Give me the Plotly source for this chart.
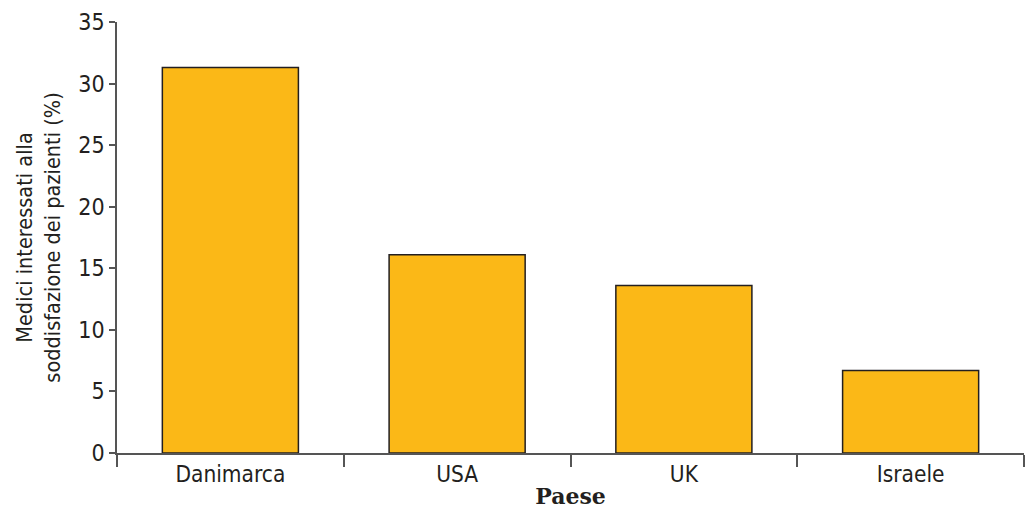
import plotly.graph_objects as go

countries = ["Danimarca", "USA", "UK", "Israele"]
values = [31.3, 16.1, 13.6, 6.7]
y_ticks = [0, 5, 10, 15, 20, 25, 30, 35]

font_main = "DejaVu Sans Condensed, Liberation Sans Narrow, sans-serif"

fig = go.Figure(go.Bar(
    x=countries,
    y=values,
    marker=dict(color="#FBB817", line=dict(color="#231F20", width=1.5)),
    width=0.6,
))

fig.update_layout(
    width=1033, height=514,
    margin=dict(l=117, r=9, t=19, b=61),
    paper_bgcolor="white", plot_bgcolor="white",
    showlegend=False,
    font=dict(family=font_main, size=22, color="#231F20"),
)

fig.update_xaxes(
    type="category",
    range=[-0.5, 3.5],
    showline=True, linecolor="#555555", linewidth=1.5,
    ticks="outside", tickson="boundaries", ticklen=12, tickwidth=1.5, tickcolor="#555555",
    showgrid=False, zeroline=False,
    tickfont=dict(family=font_main, size=22.5, color="#231F20"),
    title=dict(text="<b>Paese</b>", font=dict(family="DejaVu Serif, serif", size=22, color="#231F20"), standoff=3),
)

fig.update_yaxes(
    range=[0, 35],
    tickvals=y_ticks,
    showline=True, linecolor="#555555", linewidth=1.5,
    ticks="outside", ticklen=6, tickwidth=1.5, tickcolor="#555555",
    showgrid=False, zeroline=False,
    tickfont=dict(family=font_main, size=23, color="#231F20"),
    title=dict(text="Medici interessati alla<br>soddisfazione dei pazienti (%)",
               font=dict(family=font_main, size=21.5, color="#231F20"), standoff=12),
)

fig.write_html("out.html")
